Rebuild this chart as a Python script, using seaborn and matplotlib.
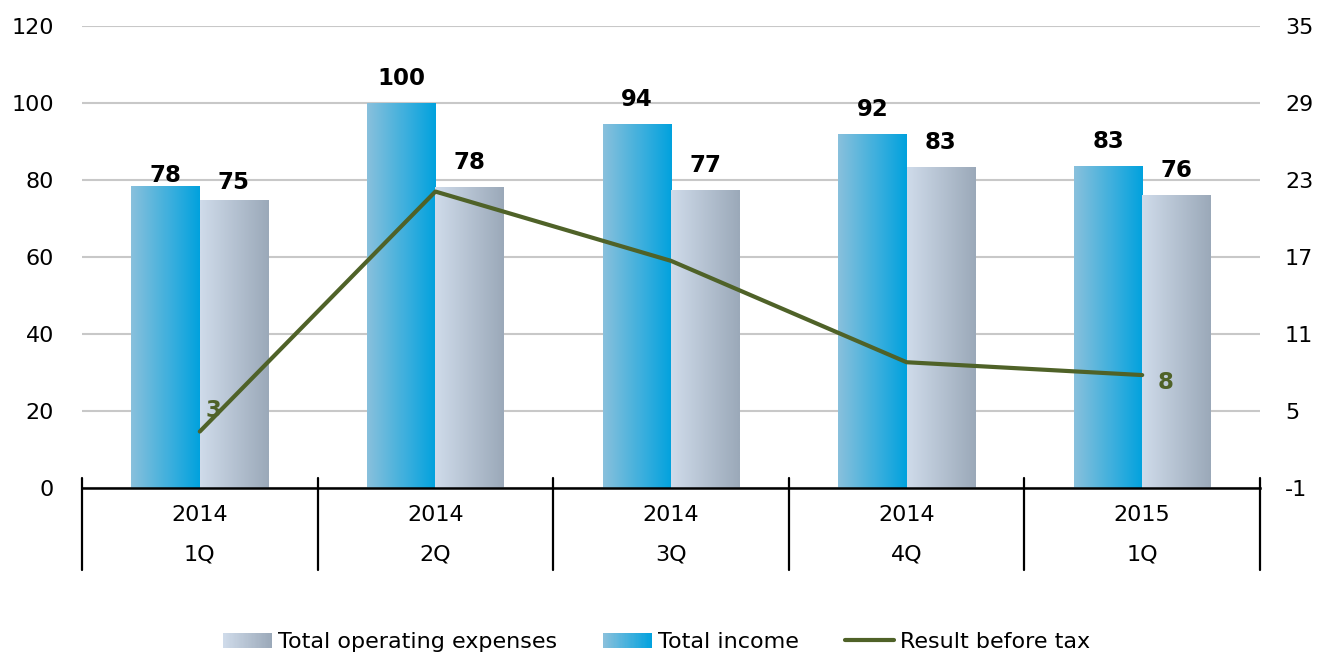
import numpy as np
import pandas as pd
import matplotlib
matplotlib.use("Agg")
import matplotlib.pyplot as plt
import matplotlib.transforms as mtransforms
from matplotlib.colors import to_rgb
from matplotlib.patches import Rectangle
from matplotlib.legend_handler import HandlerBase
from matplotlib.lines import Line2D
import seaborn as sns

# ---- data ----
years = ["2014", "2014", "2014", "2014", "2015"]
quarters = ["1Q", "2Q", "3Q", "4Q", "1Q"]
total_income = [78.4, 99.9, 94.3, 91.9, 83.4]
total_opex = [74.6, 78.0, 77.4, 83.3, 76.1]
result_before_tax = [3.4, 22.1, 16.7, 8.8, 7.8]
left_ticks = [0, 20, 40, 60, 80, 100, 120]
right_ticks = [-1, 5, 11, 17, 23, 29, 35]

INCOME = "Total income"
OPEX = "Total operating expenses"
RESULT = "Result before tax"

periods = [f"{y}\n{q}" for y, q in zip(years, quarters)]
df = pd.DataFrame({
    "period": periods * 2,
    "series": [INCOME] * len(periods) + [OPEX] * len(periods),
    "value": total_income + total_opex,
})

# gradient end colours (left -> right)
grad = {
    INCOME: ("#88c0dc", "#02a2de"),
    OPEX: ("#cfdbea", "#9ba9b9"),
}
line_color = "#4f6228"

sns.set_theme(style="white")
plt.rcParams["font.family"] = ["DejaVu Sans"]
plt.rcParams["axes.unicode_minus"] = False
plt.rcParams["text.color"] = "black"

fig = plt.figure(figsize=(13.29, 6.52), dpi=100)
ax = fig.add_axes([82 / 1329, 1 - 488 / 652, (1260 - 82) / 1329, (488 - 26) / 652])

sns.barplot(data=df, x="period", y="value", hue="series",
            hue_order=[INCOME, OPEX], width=0.58, gap=0, dodge=True,
            ax=ax, legend=False, saturation=1, edgecolor="none")


def gradient_row(c0, c1, n=64):
    a, b = np.array(to_rgb(c0)), np.array(to_rgb(c1))
    t = np.linspace(0, 1, n)[:, None]
    return (a + (b - a) * t)[None, :, :]


# paint each bar with a horizontal gradient
n_per = len(periods)
for i, patch in enumerate(ax.patches):
    name = INCOME if i < n_per else OPEX
    x0, y0 = patch.get_x(), patch.get_y()
    w, h = patch.get_width(), patch.get_height()
    patch.set_facecolor("none")
    ax.imshow(gradient_row(*grad[name]), extent=[x0, x0 + w, y0, y0 + h],
              aspect="auto", interpolation="bilinear", zorder=2)

ax.set_xlim(-0.5, len(periods) - 0.5)
ax.set_ylim(0, 120)
ax.set_yticks(left_ticks)
ax.set_xlabel("")
ax.set_ylabel("")

# value labels above bars
label_lift = {0: (8, 13)}
for i in range(n_per):
    bars = [ax.patches[i], ax.patches[i + n_per]]
    lifts = label_lift.get(i, (18, 18))
    for bar, val, lift in zip(bars, [total_income[i], total_opex[i]], lifts):
        ax.annotate(f"{val:.0f}", (bar.get_x() + bar.get_width() / 2, val),
                    xytext=(0, lift), textcoords="offset points",
                    ha="center", va="center", fontsize=16.5, fontweight="bold",
                    color="black", zorder=5)

# grid and spines
ax.yaxis.grid(True, color="#c8c8c8", linewidth=1.5)
ax.set_axisbelow(True)
for s in ["left", "right", "top"]:
    ax.spines[s].set_visible(False)
ax.spines["bottom"].set_color("black")
ax.spines["bottom"].set_linewidth(1.8)
ax.spines["bottom"].set_zorder(4)
ax.tick_params(axis="y", length=0, pad=20, labelsize=16, labelcolor="black")
ax.tick_params(axis="x", length=0, labelbottom=False)

# two-row category axis with separators
blend = mtransforms.blended_transform_factory(ax.transData, ax.transAxes)
for i, (y, q) in enumerate(zip(years, quarters)):
    ax.text(i, -0.058, y, transform=blend, ha="center", va="center",
            fontsize=16, color="black")
    ax.text(i, -0.145, q, transform=blend, ha="center", va="center",
            fontsize=16, color="black")
for b in np.arange(-0.5, len(periods), 1.0):
    ax.plot([b, b], [0.022, -0.178], transform=blend, color="black",
            linewidth=1.6, clip_on=False, zorder=4)

# secondary axis line
ax2 = ax.twinx()
sns.lineplot(x=np.arange(len(periods)), y=result_before_tax, ax=ax2,
             color=line_color, linewidth=3.0, legend=False, zorder=3)
ax2.set_xlim(-0.5, len(periods) - 0.5)
ax2.set_ylim(-1, 35)
ax2.set_yticks(right_ticks)
for s in ["left", "right", "top", "bottom"]:
    ax2.spines[s].set_visible(False)
ax2.tick_params(axis="y", length=0, pad=18, labelsize=16, labelcolor="black")
ax2.grid(False)

ends = [(0, (10, 15)), (len(periods) - 1, (17, -5))]
for idx, off in ends:
    ax2.annotate(f"{result_before_tax[idx]:.0f}", (idx, result_before_tax[idx]),
                 xytext=off, textcoords="offset points", ha="center",
                 va="center", fontsize=16.5, fontweight="bold", color=line_color)


# legend with gradient swatches
class GradientHandler(HandlerBase):
    def __init__(self, c0, c1, n=40):
        super().__init__()
        self.c0, self.c1, self.n = np.array(to_rgb(c0)), np.array(to_rgb(c1)), n

    def create_artists(self, legend, orig_handle, xdescent, ydescent,
                       width, height, fontsize, trans):
        arts = []
        step = width / self.n
        for k in range(self.n):
            t = k / (self.n - 1)
            c = self.c0 + (self.c1 - self.c0) * t
            arts.append(Rectangle((-xdescent + k * step, -ydescent),
                                  step * 1.1, height, facecolor=c,
                                  edgecolor="none", transform=trans))
        return arts


h_opex = Rectangle((0, 0), 1, 1)
h_inc = Rectangle((0, 0), 1, 1)
h_line = Line2D([], [], color=line_color, linewidth=3.0)
leg = fig.legend([h_opex, h_inc, h_line], [OPEX, INCOME, RESULT],
                 handler_map={h_opex: GradientHandler(*grad[OPEX]),
                              h_inc: GradientHandler(*grad[INCOME])},
                 loc="lower center", bbox_to_anchor=(0.494, -0.024), ncol=3,
                 frameon=False, fontsize=16, handlelength=2.2, handleheight=0.7,
                 handletextpad=0.25, columnspacing=2.1, borderpad=0.2)
for t in leg.get_texts():
    t.set_color("black")

fig.savefig("out.png", dpi=100, facecolor="white")
